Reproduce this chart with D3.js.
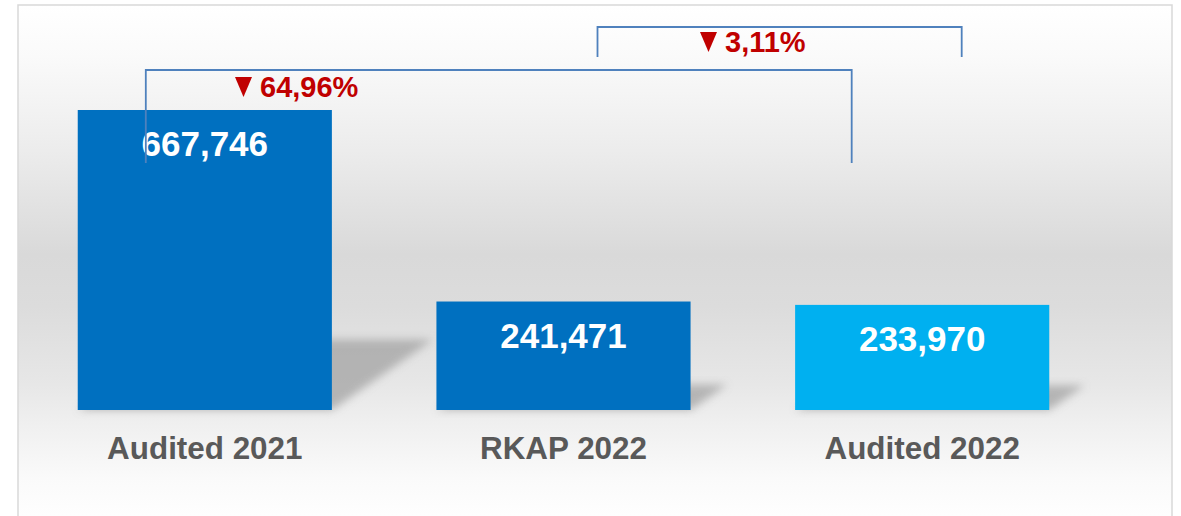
<!DOCTYPE html>
<html>
<head>
<meta charset="utf-8">
<script src="https://cdn.jsdelivr.net/npm/d3@7/dist/d3.min.js"></script>
<style>
  html, body { margin: 0; padding: 0; background: #ffffff; }
  svg { display: block; }
</style>
</head>
<body>
<svg id="chart" width="1181" height="516"></svg>
<script>
// ---- data ----
const categories = ["Audited 2021", "RKAP 2022", "Audited 2022"];
const values = [667746, 241471, 233970];
const valueLabels = ["667,746", "241,471", "233,970"];
const barColors = ["#0070C0", "#0070C0", "#00B0F0"];
const changes = [
  { from: 0, to: 2, label: "64,96%" },
  { from: 1, to: 2, label: "3,11%" }
];

// ---- layout ----
const W = 1181, H = 516;
const svg = d3.select("#chart");
const defs = svg.append("defs");

const grad = defs.append("linearGradient")
  .attr("id", "bg").attr("x1", 0).attr("y1", 0).attr("x2", 0).attr("y2", 1);
[[0, "#ffffff"], [0.1, "#fafafa"], [0.28, "#ececec"], [0.48, "#d9d9d9"],
 [0.58, "#dcdcdc"], [0.73, "#e7e7e7"], [0.81, "#f0f0f0"], [0.91, "#fafafa"], [1, "#ffffff"]]
  .forEach(([o, c]) => grad.append("stop").attr("offset", o).attr("stop-color", c));

defs.append("filter").attr("id", "blur")
  .attr("x", "-20%").attr("y", "-30%").attr("width", "140%").attr("height", "160%")
  .append("feGaussianBlur").attr("stdDeviation", 4);

// frame
svg.append("rect").attr("x", 18).attr("y", 5).attr("width", 1154).attr("height", 520)
  .attr("fill", "url(#bg)").attr("stroke", "#d9d9d9").attr("stroke-width", 1.5);

const x = d3.scaleBand().domain(categories).range([6, 1121])
  .paddingInner(0.2915).paddingOuter(0.2);
const y = d3.scaleLinear().domain([0, d3.max(values)]).range([410, 110]);

const data = categories.map((c, i) => ({ c, v: values[i], label: valueLabels[i], color: barColors[i] }));

// shadows
svg.append("g").selectAll("path").data(data).join("path")
  .attr("d", d => {
    const x0 = x(d.c), x1 = x0 + x.bandwidth();
    const hb = y(0) - y(d.v);
    const sh = hb * 0.235, sk = hb * 0.337;
    const base = y(0);
    return `M${x0},${base}L${x0 + sk},${base - sh}L${x1 + sk},${base - sh}L${x1},${base}Z`;
  })
  .attr("fill", "#a3a3a3").attr("opacity", 0.75).attr("filter", "url(#blur)");

// bars
svg.append("g").selectAll("rect").data(data).join("rect")
  .attr("x", d => x(d.c)).attr("y", d => y(d.v))
  .attr("width", x.bandwidth()).attr("height", d => y(0) - y(d.v))
  .attr("fill", d => d.color);

// value labels
svg.append("g").selectAll("text").data(data).join("text")
  .attr("x", d => x(d.c) + x.bandwidth() / 2)
  .attr("y", d => y(d.v) + 46)
  .attr("text-anchor", "middle")
  .attr("font-family", "'Liberation Sans', Arial, sans-serif")
  .attr("font-weight", "bold").attr("font-size", 35).attr("fill", "#ffffff")
  .text(d => d.label);

// category labels
svg.append("g").selectAll("text").data(data).join("text")
  .attr("x", d => x(d.c) + x.bandwidth() / 2)
  .attr("y", 459)
  .attr("text-anchor", "middle")
  .attr("font-family", "'Liberation Sans', Arial, sans-serif")
  .attr("font-weight", "bold").attr("font-size", 31.4).attr("fill", "#595959")
  .text(d => d.c);

// change brackets
const cx = i => x(categories[i]) + x.bandwidth() / 2;
const brackets = [
  { xl: cx(0) - 59, xr: cx(2) - 70.5, top: 70, bottom: 163, tx: 235, ty: 97 },
  { xl: cx(1) + 34, xr: cx(2) + 39.5, top: 27, bottom: 57, tx: 700, ty: 52 }
];
const bg = svg.append("g");
brackets.forEach((b, i) => {
  bg.append("path")
    .attr("d", `M${b.xl},${b.bottom}V${b.top}H${b.xr}V${b.bottom}`)
    .attr("fill", "none").attr("stroke", "#4F81BD").attr("stroke-width", 1.8);
  bg.append("path")
    .attr("d", `M${b.tx},${b.ty - 20}H${b.tx + 17}L${b.tx + 8.5},${b.ty}Z`)
    .attr("fill", "#C00000");
  bg.append("text")
    .attr("x", b.tx + 25).attr("y", b.ty)
    .attr("font-family", "'Liberation Sans', Arial, sans-serif")
    .attr("font-weight", "bold").attr("font-size", 29).attr("fill", "#C00000")
    .text(changes[i].label);
});
</script>
</body>
</html>
